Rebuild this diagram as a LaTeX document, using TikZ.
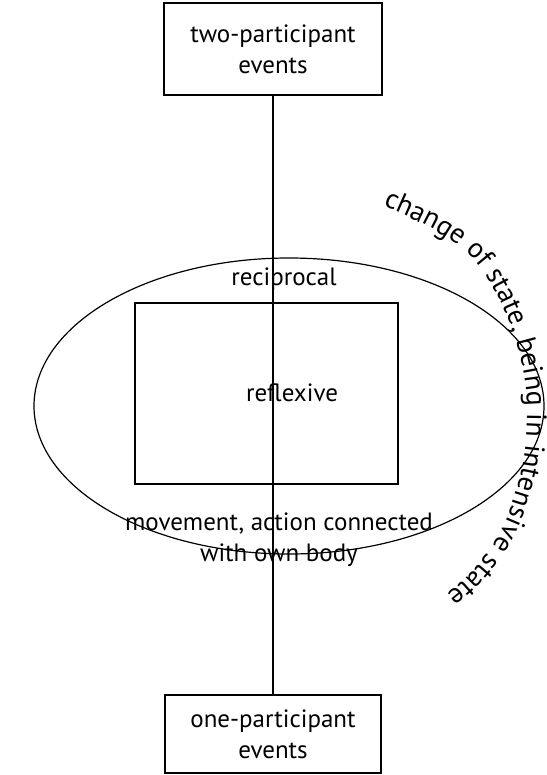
\documentclass[tikz,border=0pt]{standalone}
\usepackage{fontspec}
\setmainfont{PT Sans}
\usetikzlibrary{shapes.geometric,decorations.text}
\begin{document}
\begin{tikzpicture}[x=1pt,y=-1pt,line width=1.2pt,
  lbl/.style={font=\fontsize{25}{31}\selectfont, inner sep=0pt, align=center},
  boxnode/.style={draw, lbl}]
\useasboundingbox (0,0) rectangle (546,775);
\node[boxnode, minimum width=218pt, minimum height=92pt] (top) at (273,49) {two-participant\\events};
\node[boxnode, minimum width=216pt, minimum height=78pt] (bot) at (273,734) {one-participant\\events};
\node[draw, ellipse, minimum width=510pt, minimum height=296pt, inner sep=0pt] (ell) at (289,406) {};
\node[draw, minimum width=263pt, minimum height=181pt, inner sep=0pt] (refl) at (266.5,393.5) {};
\node[lbl] (refltxt) at (292,393) {reflexive};
\node[lbl] (recip) at (284,279) {reciprocal};
\node[lbl] (move) at (279,540) {movement, action connected\\with own body};
\draw (top.south) -- (bot.north);
\path[decorate, decoration={text along path,
  text={|\fontsize{28}{32}\selectfont|change of state, being in intensive state}}]
  plot[smooth, tension=0.6] coordinates {(383,206) (438,232) (479,265) (508,318) (523,370) (527,415) (522,468) (506,520) (482,560) (452,590) (420,610) (385,624) (350,632)};
\end{tikzpicture}
\end{document}
